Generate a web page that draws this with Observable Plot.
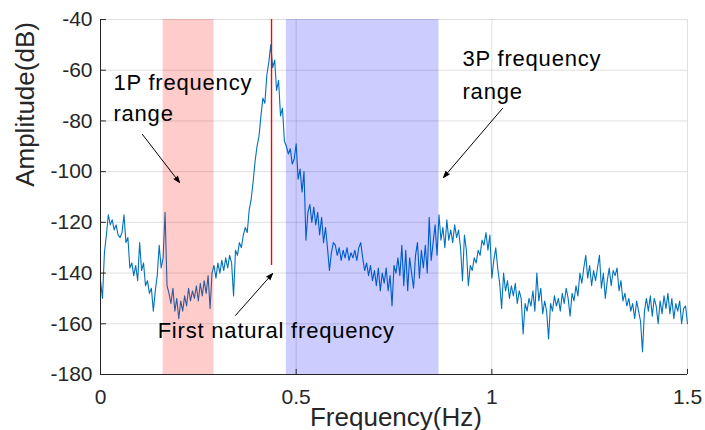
<!DOCTYPE html>
<html><head><meta charset="utf-8">
<script src="https://cdn.jsdelivr.net/npm/d3@7"></script>
<script src="https://cdn.jsdelivr.net/npm/@observablehq/plot@0.6"></script>
<style>
body{margin:0;background:#fff}
#chart svg{font-family:"Liberation Sans",Arial,sans-serif}
</style>
</head><body><div id="chart"></div>
<script>
// Spectrum sampled every 0.005 Hz from 0 to 1.5 Hz
const freqStep = 0.005;
const amplitude = [
-143,-150,-132,-125,-117,-121,-119,-123,-121,-125,
-126,-124,-117,-128,-126,-138,-136,-141,-137,-143,
-128,-139,-136,-145,-143,-148,-146,-155,-147,-141,
-129,-138,-134,-116,-145,-148,-152,-146,-155,-150,
-158,-151,-155,-149,-153,-146,-151,-147,-150,-145,
-151,-144,-149,-143,-148,-141,-154,-140,-137,-142,
-136,-140,-135,-139,-134,-138,-133,-136,-149,-131,
-133,-128,-130,-125,-122,-124,-115,-111,-104,-96,
-90,-86,-78,-71,-73,-62,-57,-50,-59,-56,
-68,-64,-78,-75,-88,-90,-93,-91,-97,-95,
-89,-103,-99,-108,-100,-127,-116,-113,-120,-114,
-121,-116,-125,-118,-128,-122,-130,-139,-132,-128,
-129,-133,-130,-135,-131,-134,-130,-135,-132,-134,
-131,-135,-130,-128,-134,-139,-136,-141,-137,-143,
-139,-145,-138,-147,-140,-144,-138,-147,-141,-153,
-137,-140,-134,-141,-129,-145,-131,-147,-134,-140,
-146,-133,-128,-142,-131,-138,-129,-140,-118,-135,
-128,-121,-133,-117,-127,-122,-130,-119,-127,-123,
-128,-121,-126,-123,-130,-143,-125,-131,-145,-137,
-139,-134,-136,-131,-133,-127,-129,-124,-131,-125,
-142,-135,-130,-138,-144,-154,-140,-147,-143,-150,
-145,-149,-144,-152,-147,-150,-164,-152,-155,-150,
-153,-147,-155,-140,-151,-146,-156,-151,-155,-166,
-152,-155,-149,-153,-150,-155,-148,-152,-146,-150,
-157,-148,-151,-145,-149,-140,-144,-138,-133,-142,
-137,-145,-139,-143,-138,-133,-146,-140,-150,-143,
-138,-145,-139,-141,-138,-147,-143,-151,-148,-153,
-150,-155,-152,-158,-151,-155,-159,-171,-155,-150,
-155,-149,-157,-150,-153,-160,-151,-156,-149,-154,
-148,-156,-150,-158,-152,-155,-151,-160,-154,-153,-160
];
const xTicks = [0, 0.5, 1, 1.5];
const yTicks = [-180, -160, -140, -120, -100, -80, -60, -40];
const band1P = [0.160, 0.290];
const band3P = [0.475, 0.865];
const naturalFreq = 0.437;
const naturalFreqLow = -137;
const xLabel = "Frequency(Hz)";
const yLabel = "Amplitude(dB)";
const text1P = ["1P frequency", "range"];
const text3P = ["3P frequency", "range"];
const textNatural = "First natural frequency";

const spectrum = amplitude.map((a, i) => ({f: +(i * freqStep).toFixed(4), a}));
const ink = "#262626";

const chart = Plot.plot({
  width: 705, height: 430,
  marginLeft: 100, marginRight: 18, marginTop: 19, marginBottom: 56,
  x: {domain: [0, 1.5]},
  y: {domain: [-180, -40]},
  style: {background: "white", color: ink, overflow: "visible"},
  marks: [
    Plot.ruleY(yTicks, {stroke: ink, strokeOpacity: 0.15}),
    Plot.ruleX(xTicks, {stroke: ink, strokeOpacity: 0.15}),
    Plot.line(spectrum, {x: "f", y: "a", stroke: "#0072BD", strokeWidth: 1.1}),
    Plot.rect([band1P], {x1: d => d[0], x2: d => d[1], y1: -180, y2: -40, fill: "#ff0000", fillOpacity: 0.2}),
    Plot.rect([band3P], {x1: d => d[0], x2: d => d[1], y1: -180, y2: -40, fill: "#0000ff", fillOpacity: 0.2}),
    Plot.ruleX([naturalFreq], {y1: naturalFreqLow, y2: -40, stroke: "#ff0000", strokeWidth: 1.4}),
    Plot.ruleX([0], {y1: -180, y2: -40, stroke: ink}),
    Plot.ruleY([-180], {x1: 0, x2: 1.5, stroke: ink}),
    Plot.ruleY(yTicks, {x1: 0, x2: 0.015, stroke: ink}),
    Plot.ruleX(xTicks, {y1: -180, y2: -178, stroke: ink}),
    Plot.axisY(yTicks, {tickSize: 0, tickPadding: 8, fontSize: 21, tickFormat: d => String(d), label: null}),
    Plot.axisX(xTicks, {tickSize: 0, tickPadding: 15, fontSize: 21, tickFormat: d => String(d), label: null}),
    Plot.text([xLabel], {x: 0.755, frameAnchor: "bottom", dy: 51, lineAnchor: "bottom", fontSize: 26, fill: ink, text: d => d}),
    Plot.text([yLabel], {y: -106, frameAnchor: "left", dx: -67, rotate: -90, lineAnchor: "bottom", fontSize: 26, fill: ink, text: d => d}),
    Plot.text([text1P[0]], {x: 0.033, y: -67.7, textAnchor: "start", lineAnchor: "bottom", fontSize: 22, fill: "black", text: d => d}),
    Plot.text([text1P[1]], {x: 0.033, y: -80.1, textAnchor: "start", lineAnchor: "bottom", fontSize: 22, fill: "black", text: d => d}),
    Plot.text([text3P[0]], {x: 0.925, y: -58.5, textAnchor: "start", lineAnchor: "bottom", fontSize: 22, fill: "black", text: d => d}),
    Plot.text([text3P[1]], {x: 0.925, y: -71.3, textAnchor: "start", lineAnchor: "bottom", fontSize: 22, fill: "black", text: d => d}),
    Plot.text([textNatural], {x: 0.146, y: -165.5, textAnchor: "start", lineAnchor: "bottom", fontSize: 22, fill: "black", text: d => d}),
    Plot.arrow([[0.107, -85.3, 0.202, -104.3]], {x1: d => d[0], y1: d => d[1], x2: d => d[2], y2: d => d[3], stroke: "black", fill: "black", strokeWidth: 1, headLength: 10, headAngle: 40}),
    Plot.arrow([[1.027, -75.1, 0.8766, -102.3]], {x1: d => d[0], y1: d => d[1], x2: d => d[2], y2: d => d[3], stroke: "black", fill: "black", strokeWidth: 1, headLength: 10, headAngle: 40}),
    Plot.arrow([[0.345, -156.7, 0.4396, -140.2]], {x1: d => d[0], y1: d => d[1], x2: d => d[2], y2: d => d[3], stroke: "black", fill: "black", strokeWidth: 1, headLength: 10, headAngle: 40})
  ]
});
document.getElementById("chart").appendChild(chart);
d3.select(chart).selectAll('g[aria-label="text"] text').each(function() {
  const fs = parseFloat(d3.select(this.parentNode).attr("font-size") || this.getAttribute("font-size"));
  if (fs === 22) this.style.letterSpacing = "0.8px";
});
</script>
</body></html>
